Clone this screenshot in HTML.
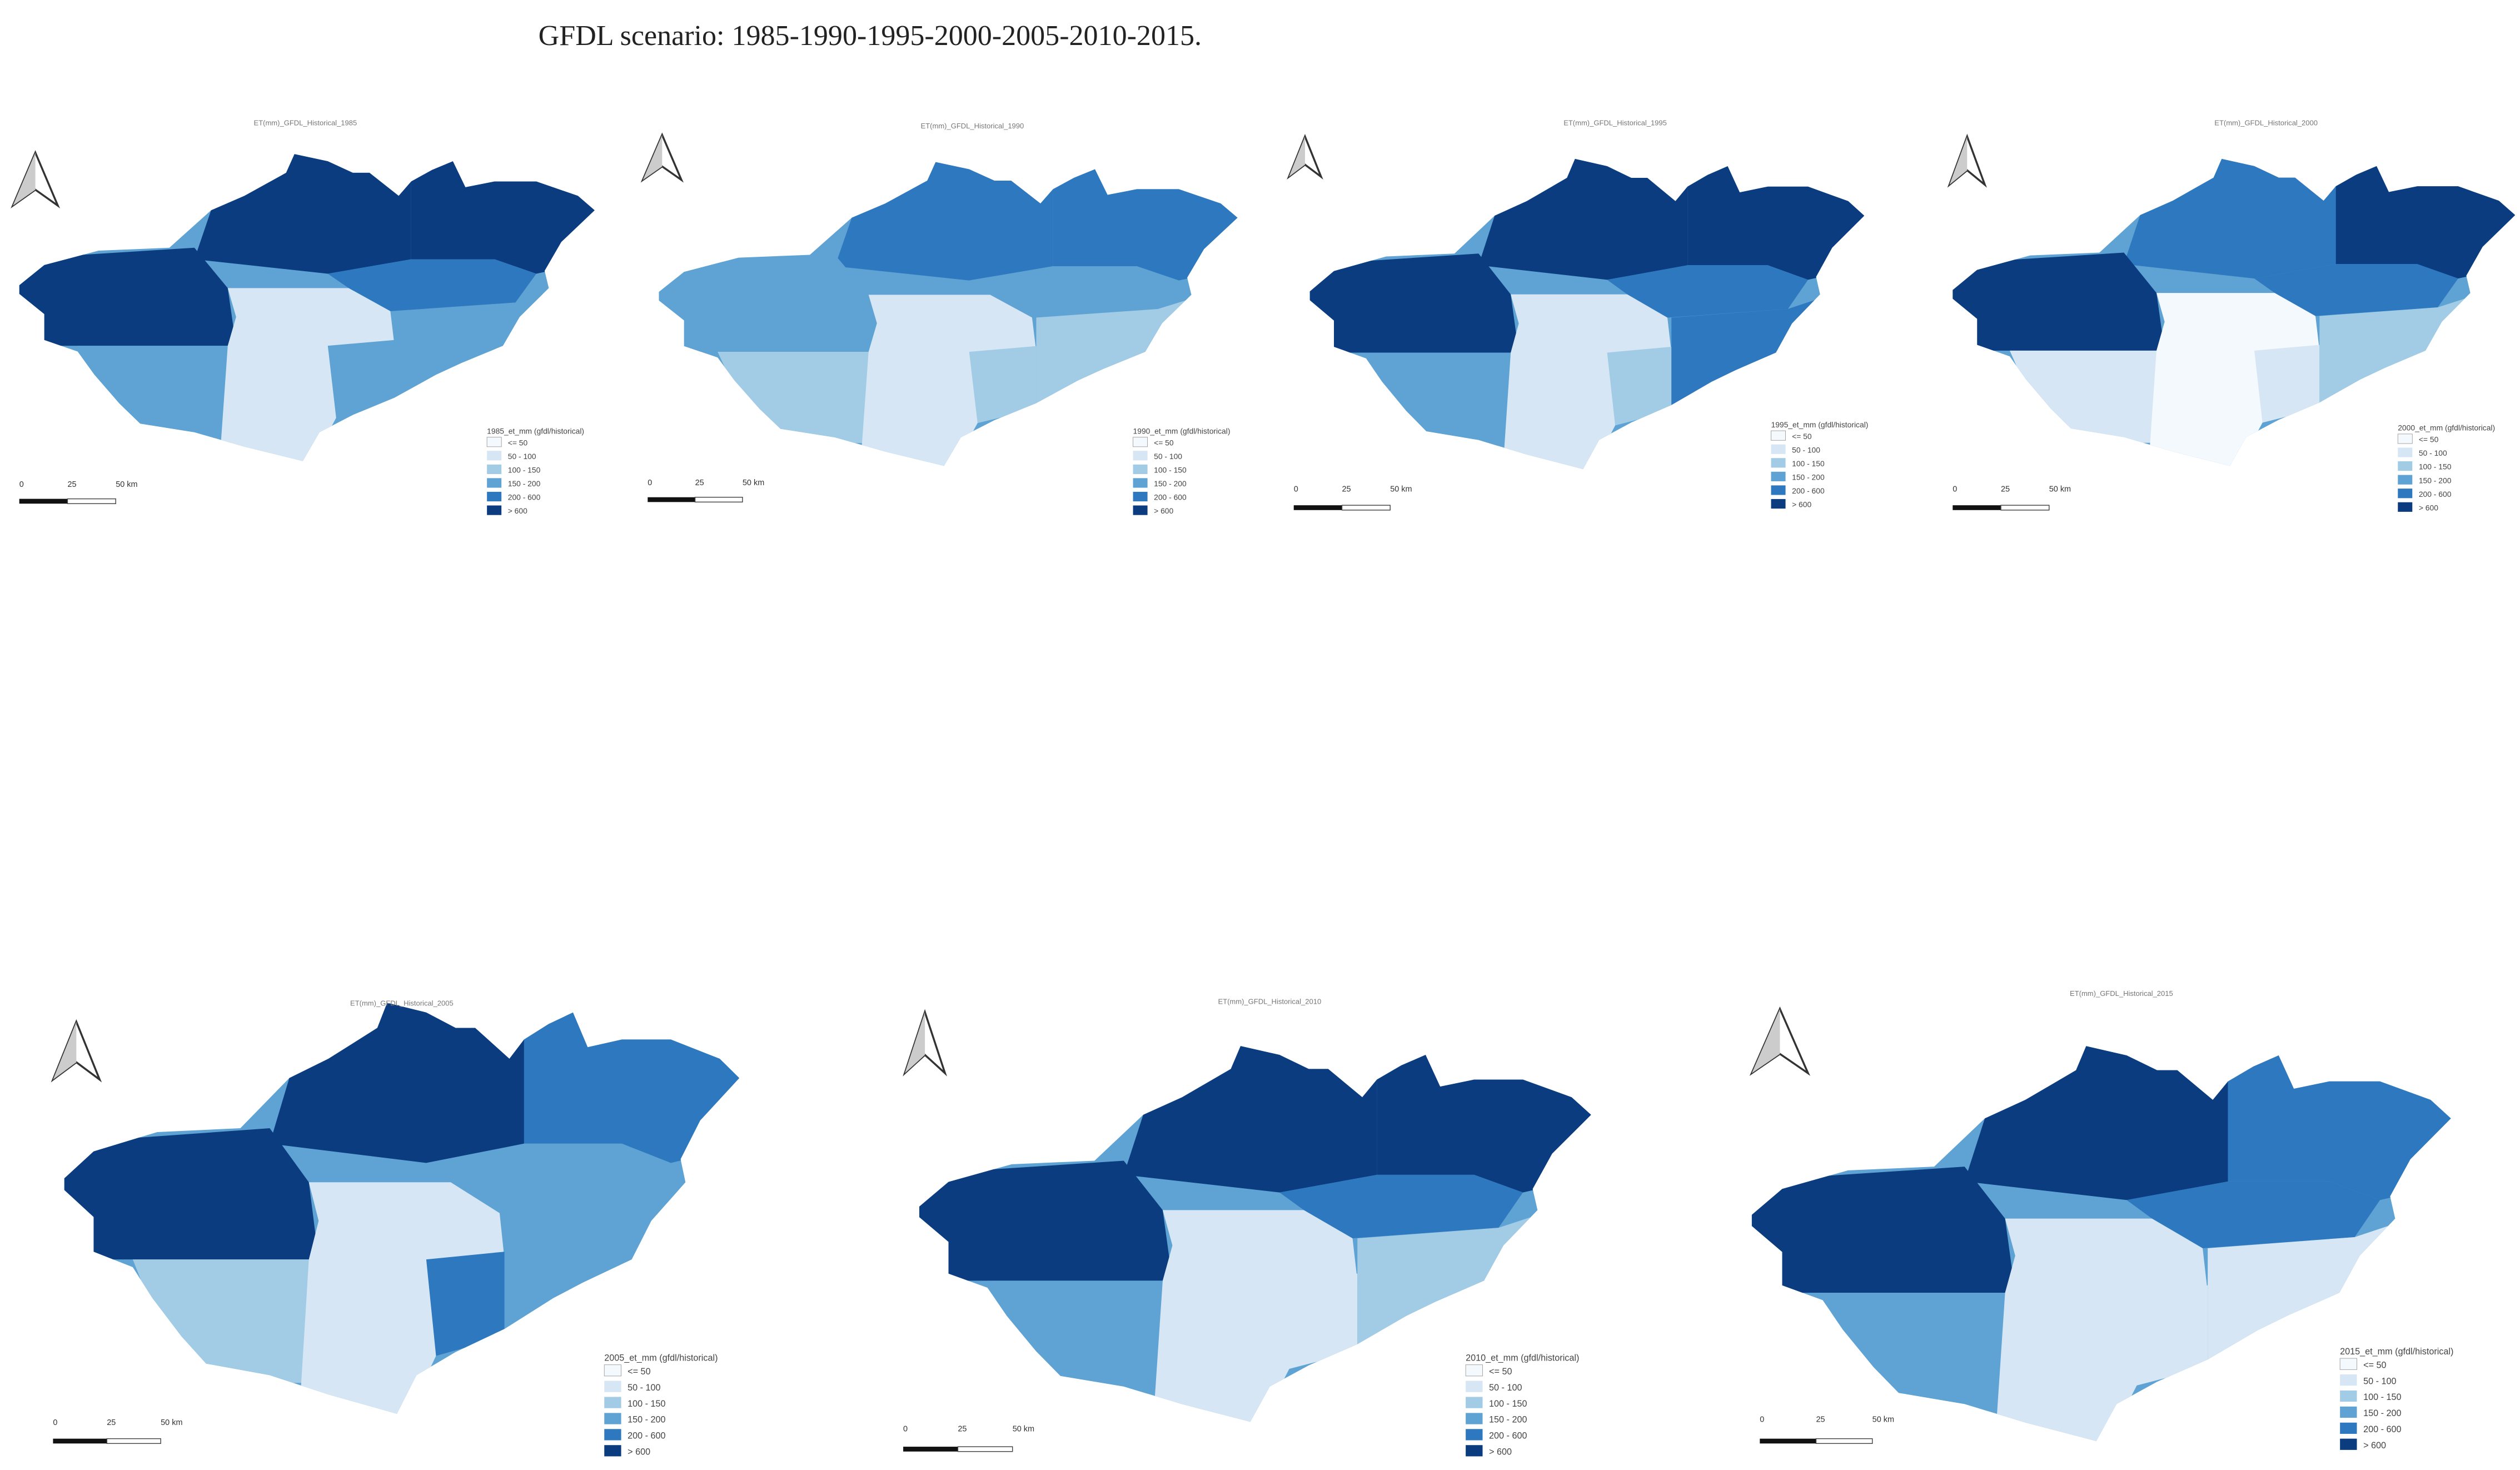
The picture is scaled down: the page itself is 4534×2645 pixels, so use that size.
<!DOCTYPE html>
<html><head><meta charset="utf-8"><title>GFDL scenario maps</title>
<style>
html,body{margin:0;padding:0;background:#fff;}
svg{display:block;}
</style></head>
<body>
<svg id="fig" xmlns="http://www.w3.org/2000/svg" width="4534" height="2645" viewBox="0 0 1568 915" preserveAspectRatio="none">
<rect width="1568" height="915" fill="#fff"/>
<text x="335" y="28" font-family="Liberation Serif, serif" font-size="18" fill="#222">GFDL scenario: 1985-1990-1995-2000-2005-2010-2015.</text>
<defs>
<path id="outline" d="M60,690 L120,620 L250,570 L420,560 L520,430 L600,380 L700,300 L720,235 L800,260 L860,300 L900,300 L970,380 L1000,330 L1050,290 L1100,260 L1130,350 L1200,330 L1300,330 L1400,380 L1440,430 L1360,540 L1320,640 L1330,700 L1260,800 L1220,900 L1120,960 L1060,1000 L960,1080 L860,1140 L780,1200 L740,1300 L600,1250 L480,1200 L350,1170 L300,1100 L240,1000 L200,920 L120,880 L120,790 L60,720 Z"/>
<clipPath id="clip"><use href="#outline"/></clipPath>
</defs>
<g id="maps"></g>
</svg>
<script>
// ET classes (mm) and colours
const classLabels = ["<= 50","50 - 100","100 - 150","150 - 200","200 - 600","> 600"];
const classColors = ["#f4f9fe","#d6e6f4","#a2cbe5","#5ea3d3","#2e78bf","#0b3c80"];
const years = [1985,1990,1995,2000,2005,2010,2015];
// zone class levels per year: [north-centre, north-east, east-mid, west, south-west, centre, south-centre-east, south-east]
const zones1985 = [5,5,4,5,3,1,3,3];
const zones1990 = [4,4,3,3,2,1,2,2];
const zones1995 = [5,5,4,5,3,1,2,4];
const zones2000 = [4,5,4,5,1,0,1,2];
const zones2005 = [5,4,3,5,2,1,4,3];
const zones2010 = [5,5,4,5,3,1,1,2];
const zones2015 = [5,4,4,5,3,1,1,1];
const zoneLevels = [zones1985,zones1990,zones1995,zones2000,zones2005,zones2010,zones2015];

// layout (not data)
const zonePolys = [
 "480,600 520,430 700,230 1000,230 1000,600 800,650",
 "1000,230 1460,230 1460,600 1300,650 1200,600 1000,600",
 "800,650 1000,600 1200,600 1300,650 1250,750 950,780 850,700",
 "40,600 480,560 560,700 580,900 300,900 100,900 40,800",
 "200,900 560,900 560,1220 300,1220",
 "560,700 850,700 950,780 960,900 820,1150 760,1310 540,1310 560,900 580,800",
 "800,900 960,880 960,1100 820,1150",
 "960,780 1250,750 1360,700 1300,900 1100,1000 960,1100"
];
const layout = [
 {b:[12,370,95,287], t:[190,78], a:[8,36,95,128], l:[303,270,8.5,6], s:[12,72,303,312]},
 {b:[410,770,100,290], t:[605,80], a:[400,424,84,112], l:[705,270,8.5,6], s:[403,462,302,311]},
 {b:[815,1160,98,292], t:[1005,78], a:[802,822,85,110], l:[1102,266,8.5,6], s:[805,865,306,316]},
 {b:[1215,1565,98,290], t:[1410,78], a:[1213,1235,85,115], l:[1492,268,8.5,6], s:[1215,1275,306,316]},
 {b:[40,460,623,880], t:[250,626], a:[33,62,636,672], l:[376,847,10,7], s:[33,100,887,897]},
 {b:[572,990,650,885], t:[790,625], a:[563,588,630,668], l:[912,847,10,7], s:[562,630,891,902]},
 {b:[1090,1525,650,897], t:[1320,620], a:[1090,1125,628,668], l:[1456,843,10,7], s:[1095,1165,885,897]}
];
const NS="http://www.w3.org/2000/svg";
const root=document.getElementById('maps');
function mk(tag,attrs,parent){const e=document.createElementNS(NS,tag);for(const k in attrs)e.setAttribute(k,attrs[k]);parent.appendChild(e);return e;}

years.forEach((yr,i)=>{
 const L=layout[i];
 const g=mk('g',{},root);
 
 
 const [x0,x1,y0,y1]=L.b;
 const sx=(x1-x0)/1380, sy=(y1-y0)/1070, ox=x0-60*sx, oy=y0-230*sy;
 const mg=mk('g',{transform:`translate(${ox},${oy}) scale(${sx},${sy})`},g);
 const base=mk('use',{href:'#outline',fill:classColors[3]},mg);
 
 
 const cg=mk('g',{'clip-path':'url(#clip)'},mg);
 zonePolys.forEach((p,z)=>{
  const poly=mk('polygon',{points:p,fill:classColors[zoneLevels[i][z]]},cg);
  
  
 });
 // title
 const t=mk('text',{x:L.t[0],y:L.t[1],'font-size':4.5,'text-anchor':'middle','font-family':'Liberation Sans, sans-serif',fill:'#777'},g);
 t.textContent='ET(mm)_GFDL_Historical_'+yr;
 
 
 // north arrow
 const [ax0,ax1,ay0,ay1]=L.a, am=(ax0+ax1)/2;
 const ar=mk('g',{},g);
 
 
 mk('polygon',{points:`${am},${ay0} ${ax1},${ay1} ${am},${ay0+(ay1-ay0)*0.7} ${ax0},${ay1}`,fill:'#fff',stroke:'#333','stroke-width':1.2},ar);
 mk('polygon',{points:`${am},${ay0} ${am},${ay0+(ay1-ay0)*0.7} ${ax0},${ay1}`,fill:'#ccc'},ar);
 // scale bar
 const [s0,s1,st,sb]=L.s, sm=(s0+s1)/2;
 const sc=mk('g',{'font-family':'Liberation Sans, sans-serif','font-size':5,fill:'#333'},g);
 
 
 mk('rect',{x:s0,y:sb-1.5,width:sm-s0,height:3,fill:'#111'},sc);
 mk('rect',{x:sm,y:sb-1.5,width:s1-sm,height:3,fill:'#fff',stroke:'#444','stroke-width':0.5},sc);
 [[s0,'0'],[sm,'25'],[s1,'50 km']].forEach(([x,s])=>{const tt=mk('text',{x:x,y:st},sc);tt.textContent=s;});
 // legend
 const [lx,ly,step,fs]=L.l;
 const lg=mk('g',{'font-family':'Liberation Sans, sans-serif','font-size':fs*0.8,fill:'#444'},g);
 
 
 const lt=mk('text',{x:lx,y:ly},lg);
 lt.textContent=yr+'_et_mm (gfdl/historical)';
 classLabels.forEach((lab,k)=>{
  const yy=ly+step*(k+1);
  const sw=mk('rect',{x:lx,y:yy-step*0.75,width:fs*1.5,height:step*0.7,fill:classColors[k],stroke:k===0?'#999':'none','stroke-width':0.3},lg);
  
  
  const tx=mk('text',{x:lx+fs*1.5+4,y:yy-step*0.15},lg);
  tx.textContent=lab;
 });
});
</script>
</body></html>
